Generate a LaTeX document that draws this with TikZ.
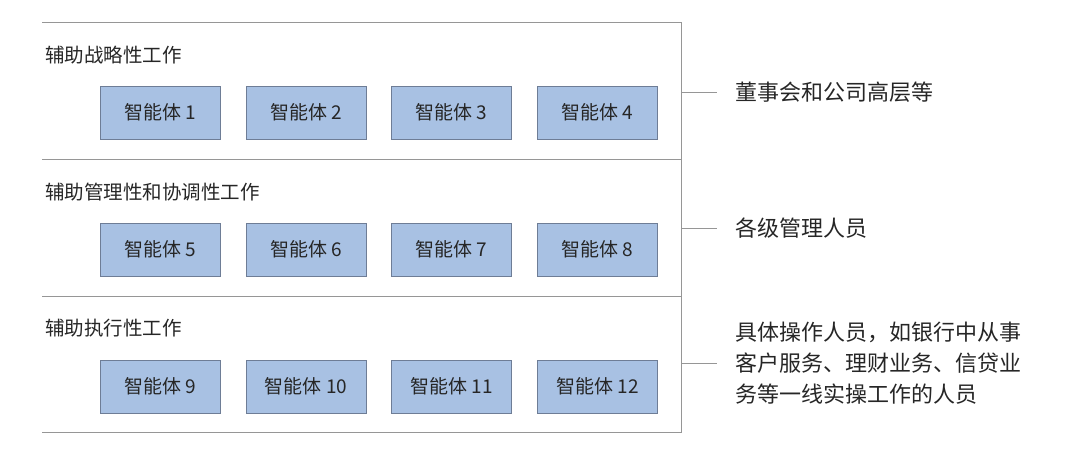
\documentclass[tikz,border=0pt]{standalone}
\usepackage{fontspec}
\setmainfont{Noto Sans CJK SC}
\definecolor{agentfill}{RGB}{168,193,227}
\definecolor{agentline}{RGB}{110,125,150}
\definecolor{rule}{RGB}{150,150,150}
\tikzset{
  agent/.style={draw=agentline, fill=agentfill, minimum width=120pt, minimum height=53pt, inner sep=0pt, font=\fontsize{19}{22}\selectfont, text=black!85},
  tier/.style={anchor=west, inner sep=0pt, font=\fontsize{19.5}{22}\selectfont, text=black!85},
  staff/.style={anchor=west, inner sep=0pt, align=left, font=\fontsize{22}{31}\selectfont, text=black!85},
  sep/.style={draw=rule, line width=0.9pt}
}
\begin{document}
\begin{tikzpicture}[x=1pt,y=-1pt]
  \useasboundingbox (0,0) rectangle (1080,452);
  % frame
  \draw[sep] (42,22)--(681,22)--(681,432)--(42,432);
  \draw[sep] (42,159)--(681,159);
  \draw[sep] (42,296)--(681,296);
  % tiers
  \node[tier] (t1) at (45,55) {辅助战略性工作};
  \node[tier] (t2) at (45,192) {辅助管理性和协调性工作};
  \node[tier] (t3) at (45,328) {辅助执行性工作};
  % agents
  \foreach \r/\y in {0/112.5,1/249.5,2/386.5}{
    \foreach \c/\x in {1/160,2/306,3/451.5,4/597.5}{
      \pgfmathtruncatemacro{\n}{\r*4+\c}
      \node[agent] (a\n) at (\x,\y) {智能体 \n};
    }
  }
  % staff
  \coordinate (c1) at (681,92);
  \coordinate (c2) at (681,228);
  \coordinate (c3) at (681,363);
  \node[staff] (s1) at (735,92) {董事会和公司高层等};
  \node[staff] (s2) at (735,228) {各级管理人员};
  \node[staff] (s3) at (735,363) {具体操作人员，如银行中从事\\客户服务、理财业务、信贷业\\务等一线实操工作的人员};
  \draw[sep] (c1)--++(36,0);
  \draw[sep] (c2)--++(36,0);
  \draw[sep] (c3)--++(36,0);
\end{tikzpicture}
\end{document}
